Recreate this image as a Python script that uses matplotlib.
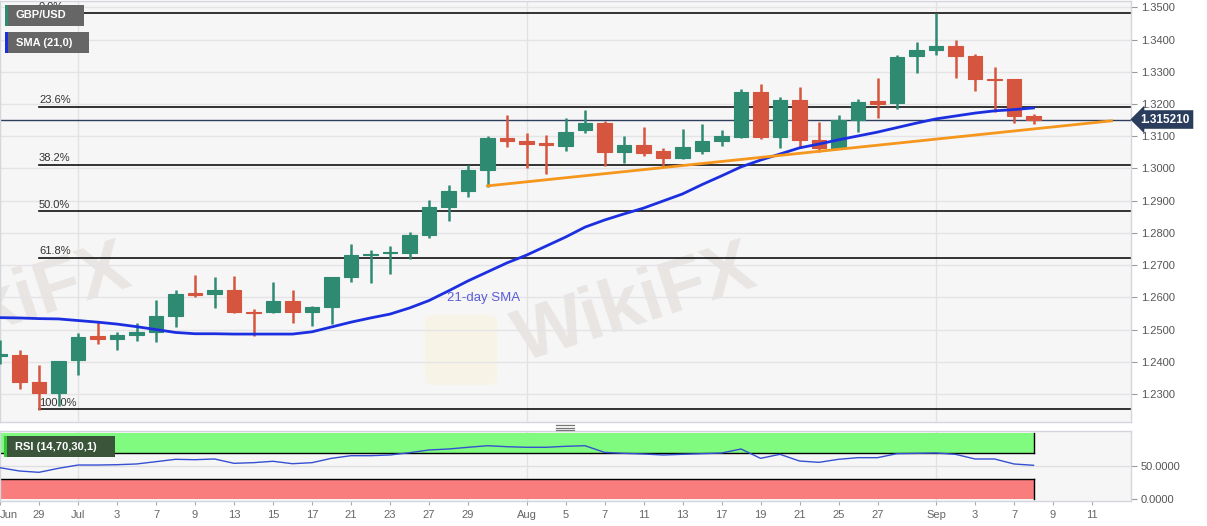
import numpy as np
import matplotlib
matplotlib.use('Agg')
import matplotlib.pyplot as plt
from matplotlib.lines import Line2D
from matplotlib.patches import Rectangle, FancyBboxPatch
import matplotlib.transforms as mtransforms

plt.rcParams['font.family'] = ['Liberation Sans', 'DejaVu Sans']

# daily GBP/USD candles, Jun 25 - Sep 8 2020
dates = ['Jun 25', 'Jun 26', 'Jun 29', 'Jun 30', 'Jul 1', 'Jul 2', 'Jul 3', 'Jul 6', 'Jul 7',
         'Jul 8', 'Jul 9', 'Jul 10', 'Jul 13', 'Jul 14', 'Jul 15', 'Jul 16', 'Jul 17', 'Jul 20',
         'Jul 21', 'Jul 22', 'Jul 23', 'Jul 24', 'Jul 27', 'Jul 28', 'Jul 29', 'Jul 30', 'Jul 31',
         'Aug 3', 'Aug 4', 'Aug 5', 'Aug 6', 'Aug 7', 'Aug 10', 'Aug 11', 'Aug 12', 'Aug 13',
         'Aug 14', 'Aug 17', 'Aug 18', 'Aug 19', 'Aug 20', 'Aug 21', 'Aug 24', 'Aug 25', 'Aug 26',
         'Aug 27', 'Aug 28', 'Aug 31', 'Sep 1', 'Sep 2', 'Sep 3', 'Sep 4', 'Sep 7', 'Sep 8']
opens = [1.2418, 1.2421, 1.2338, 1.2302, 1.2405, 1.2479, 1.2470, 1.2483, 1.2493, 1.2542,
         1.2612, 1.2609, 1.2623, 1.2555, 1.2553, 1.2589, 1.2555, 1.2569, 1.2664, 1.2732,
         1.2737, 1.2739, 1.2793, 1.2881, 1.2931, 1.2995, 1.3094, 1.3085, 1.3079, 1.3070,
         1.3120, 1.3142, 1.3051, 1.3073, 1.3054, 1.3033, 1.3055, 1.3085, 1.3099, 1.3239,
         1.3099, 1.3213, 1.3089, 1.3065, 1.3151, 1.3210, 1.3202, 1.3349, 1.3368, 1.3381,
         1.3349, 1.3279, 1.3277, 1.3163]
highs = [1.2467, 1.2436, 1.2390, 1.2403, 1.2488, 1.2527, 1.2492, 1.2519, 1.2592, 1.2623,
         1.2669, 1.2662, 1.2666, 1.2564, 1.2647, 1.2623, 1.2573, 1.2662, 1.2766, 1.2748,
         1.2759, 1.2804, 1.2902, 1.2949, 1.3011, 1.3101, 1.3166, 1.3111, 1.3104, 1.3156,
         1.3182, 1.3148, 1.3101, 1.3130, 1.3063, 1.3123, 1.3138, 1.3120, 1.3247, 1.3262,
         1.3223, 1.3254, 1.3143, 1.3166, 1.3215, 1.3282, 1.3352, 1.3394, 1.3482, 1.3399,
         1.3356, 1.3314, 1.3277, 1.3169]
lows = [1.2392, 1.2315, 1.2251, 1.2262, 1.2359, 1.2455, 1.2436, 1.2464, 1.2460, 1.2509,
        1.2600, 1.2568, 1.2550, 1.2481, 1.2550, 1.2521, 1.2512, 1.2517, 1.2648, 1.2644,
        1.2673, 1.2719, 1.2784, 1.2838, 1.2912, 1.2943, 1.3068, 1.3002, 1.2982, 1.3055,
        1.3111, 1.3008, 1.3018, 1.3040, 1.3004, 1.3030, 1.3045, 1.3070, 1.3096, 1.3093,
        1.3063, 1.3063, 1.3052, 1.3065, 1.3114, 1.3158, 1.3185, 1.3298, 1.3352, 1.3282,
        1.3242, 1.3176, 1.3140, 1.3138]
closes = [1.2424, 1.2338, 1.2302, 1.2402, 1.2476, 1.2471, 1.2483, 1.2492, 1.2542, 1.2610,
          1.2606, 1.2623, 1.2555, 1.2552, 1.2589, 1.2553, 1.2569, 1.2662, 1.2731, 1.2736,
          1.2741, 1.2793, 1.2881, 1.2931, 1.2995, 1.3094, 1.3086, 1.3075, 1.3072, 1.3112,
          1.3140, 1.3051, 1.3073, 1.3047, 1.3033, 1.3066, 1.3086, 1.3101, 1.3239, 1.3099,
          1.3213, 1.3089, 1.3065, 1.3151, 1.3207, 1.3200, 1.3347, 1.3368, 1.3381, 1.3349,
          1.3279, 1.3275, 1.3163, 1.31521]

sma21 = [1.2537, 1.2536, 1.2534, 1.2533, 1.2528, 1.2523, 1.2517, 1.2509, 1.2500, 1.2491,
         1.2487, 1.2487, 1.2486, 1.2486, 1.2486, 1.2486, 1.2493, 1.2508, 1.2523, 1.2536,
         1.2548, 1.2567, 1.2590, 1.2620, 1.2651, 1.2679, 1.2707, 1.2731, 1.2759, 1.2787,
         1.2818, 1.2840, 1.2859, 1.2877, 1.2899, 1.2921, 1.2950, 1.2977, 1.3005, 1.3026,
         1.3045, 1.3064, 1.3076, 1.3089, 1.3101, 1.3113, 1.3127, 1.3141, 1.3154, 1.3163,
         1.3172, 1.3179, 1.3183, 1.3188]

rsi14 = [47.6, 42.6, 40.6, 46.7, 51.7, 51.7, 52.2, 53.3, 56.8, 60.4,
         59.8, 60.9, 54.3, 55.3, 57.4, 53.7, 55.3, 61.9, 65.9, 65.9,
         67.0, 70.5, 74.6, 76.1, 78.7, 81.1, 79.6, 78.7, 78.7, 80.2,
         81.1, 71.0, 69.5, 68.5, 67.0, 68.0, 69.0, 70.0, 76.1, 61.9,
         68.0, 57.8, 55.8, 60.4, 62.9, 62.9, 69.0, 69.5, 70.0, 68.0,
         60.9, 60.9, 53.3, 51.3]

# support line (Jul 30 low -> projected)
trend_x = [25, 57]
trend_y = [1.2946, 1.3148]

fib_high = 1.3482
fib_low = 1.2252
fib_pcts = [0.0, 23.6, 38.2, 50.0, 61.8, 100.0]
fib_start = 2

tick_pos = [0, 2, 4, 6, 8, 10, 12, 14, 16, 18, 20, 22, 24, 27, 29, 31, 33, 35, 37, 39, 41,
            43, 45, 48, 50, 52, 54, 56]
tick_lab = ['Jun', '29', 'Jul', '3', '7', '9', '13', '15', '17', '21', '23', '27', '29', 'Aug',
            '5', '7', '11', '13', '17', '19', '21', '25', '27', 'Sep', '3', '7', '9', '11']
month_starts = [4, 27, 48]

GREEN = '#2f8a72'
RED = '#d6553f'
BLUE = '#1c2fe0'
BG = '#f6f6f7'

W, H = 1207, 526
fig = plt.figure(figsize=(W / 100, H / 100), dpi=100)
fig.patch.set_facecolor('white')
ax = fig.add_axes([0, 104 / H, 1131 / W, 421 / H])
rx = fig.add_axes([0, 25.5 / H, 1131 / W, 69.5 / H], sharex=ax)


def label_box(x0, y0, w, h, stripe, text, fc):
    # box drawn in figure pixels from top-left
    fig.add_artist(Rectangle((x0 / W, 1 - (y0 + h) / H), w / W, h / H,
                             transform=fig.transFigure, fc=fc, ec='none', zorder=10))
    fig.add_artist(Rectangle((x0 / W, 1 - (y0 + h) / H), 2.5 / W, h / H,
                             transform=fig.transFigure, fc=stripe, ec='none', zorder=11))
    fig.text((x0 + 11) / W, 1 - (y0 + h / 2) / H, text, fontsize=8, fontweight='bold',
             color='white', va='center', ha='left', zorder=12)


x = np.arange(len(dates))
o, h, l, c = map(np.array, (opens, highs, lows, closes))
up = c >= o
cols = np.where(up, GREEN, RED)

for a in (ax, rx):
    a.set_facecolor(BG)
    for s in a.spines.values():
        s.set_color('#d3d6dc')
        s.set_linewidth(1)
    a.tick_params(axis='y', which='both', left=False, right=True, labelleft=False,
                  labelright=True, length=4, color='#999999', labelsize=8,
                  labelcolor='#555555', pad=3)
    for m in month_starts:
        a.axvline(m, color='#e2e2e4', lw=1, zorder=0)

# faint watermarks
for wx, wy in [(10, 1.2575), (635, 1.2575)]:
    ax.text(wx / 19.5, wy, 'WikiFX', fontsize=54, fontweight='bold', color='#e8e5e3',
            ha='center', va='center', rotation=18, rotation_mode='anchor',
            zorder=0.5, clip_on=True)
logo = FancyBboxPatch((425 / W, 1 - 385 / H), 72 / W, 70 / H,
                      boxstyle='round,pad=0,rounding_size=0.01', transform=fig.transFigure,
                      fc='#f7f3e6', ec='none', zorder=0.4)
ax.add_patch(logo)

ax.set_ylim(1.2213, 1.3520)
ax.set_xlim(0, 58.0)
ax.set_yticks(np.arange(1.23, 1.3501, 0.01))
ax.set_yticklabels(['%.4f' % v for v in np.arange(1.23, 1.3501, 0.01)])
ax.grid(axis='y', color='#e4e4e6', lw=1, zorder=0)
ax.tick_params(axis='x', bottom=False, labelbottom=False)

# fibonacci retracements
for p in fib_pcts:
    lvl = fib_high - (fib_high - fib_low) * p / 100
    ax.plot([fib_start, 58.0], [lvl, lvl], color='#111111', lw=1.2, zorder=2)
    ax.text(fib_start, lvl + 0.0005, '%.1f%%' % p, fontsize=8, color='#333333',
            ha='left', va='bottom', zorder=12 if p == 0 else 2)

# candles
ax.vlines(x, l, h, color=cols, lw=1.8, zorder=3)
ax.bar(x, np.abs(c - o), bottom=np.minimum(o, c), width=0.75, color=cols,
       edgecolor=cols, linewidth=0.8, zorder=4)

ax.plot(x, sma21, color=BLUE, lw=2, zorder=5)
ax.plot(trend_x, trend_y, color='#f5961d', lw=2, zorder=5)
ax.text(24.8, 1.2598, '21-day SMA', fontsize=9.5, color='#5c5cd8', ha='center',
        va='center', zorder=6)

# last price
ax.axhline(closes[-1], color='#2d3f5c', lw=1, zorder=2)
trans = mtransforms.blended_transform_factory(ax.transAxes, ax.transData)
ax.text(1.0085, closes[-1], '%.6f' % closes[-1], transform=trans, fontsize=8.5,
        fontweight='bold', color='white', ha='left', va='center', clip_on=False,
        bbox=dict(boxstyle='larrow,pad=0.28', fc='#2b3d5c', ec='none'))

# RSI panel
rx.set_ylim(-2.3, 103.5)
rx.set_yticks([0, 50])
rx.set_yticklabels(['0.0000', '50.0000'])
rx.axhline(50, color='#e0e0e2', lw=1, zorder=0)
last = x[-1]
rx.fill_between([0, last], 70, 100, color='#80fb80', zorder=1, lw=0)
rx.fill_between([0, last], 0, 30, color='#f97d7d', zorder=1, lw=0)
rx.plot([0, last], [70, 70], color='black', lw=1, zorder=2)
rx.plot([0, last], [30, 30], color='black', lw=1, zorder=2)
rx.plot([last, last], [70, 100], color='black', lw=1, zorder=2)
rx.plot([last, last], [0, 30], color='black', lw=1, zorder=2)
rx.plot(x, rsi14, color='#3550d0', lw=1, zorder=3)
rx.set_xticks(tick_pos)
rx.set_xticklabels(tick_lab)
rx.tick_params(axis='x', length=3, color='#aaaaaa', labelsize=8, labelcolor='#666666', pad=4)
rx.get_xticklabels()[0].set_ha('left')

label_box(5, 5, 79, 21, GREEN, 'GBP/USD', '#666666')
label_box(5, 32, 84, 21, BLUE, 'SMA (21,0)', '#666666')
label_box(4, 436, 111, 21, '#33cc33', 'RSI (14,70,30,1)', '#3b553b')

# panel splitter handle
for yy in (425, 427.5, 430):
    fig.add_artist(Line2D([556 / W, 574 / W], [1 - yy / H, 1 - yy / H], color='#777777', lw=0.9))

fig.savefig('out.png', dpi=100)
